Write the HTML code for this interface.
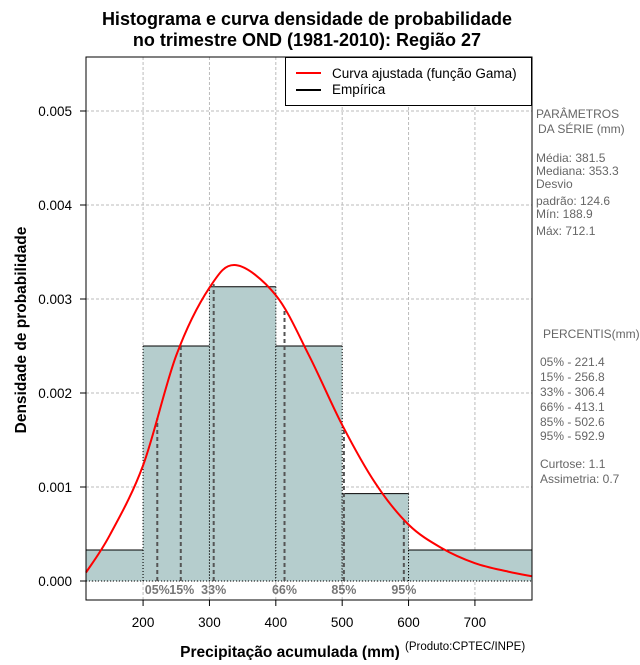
<!DOCTYPE html>
<html><head><meta charset="utf-8"><style>
body{margin:0;background:#fff;}
svg text{font-family:"Liberation Sans",sans-serif;}
</style></head><body>
<svg id="chart" width="640" height="660" viewBox="0 0 640 660" xmlns="http://www.w3.org/2000/svg">
<text x="307" y="25" text-anchor="middle" font-size="18" font-weight="bold">Histograma e curva densidade de probabilidade</text>
<text x="307" y="46" text-anchor="middle" font-size="18" font-weight="bold">no trimestre OND (1981-2010): Região 27</text>
<g id="grid"></g>
<g id="bars"></g>
<g id="pct"></g>
<g id="curve"></g>
<g id="axes"></g>
<rect x="86" y="57" width="446" height="543" fill="none" stroke="#000" stroke-width="1"/>
<g>
<rect x="285.5" y="57.5" width="246" height="48" fill="#fff" stroke="#000"/>
<line x1="296" y1="73" x2="321" y2="73" stroke="#f00" stroke-width="2"/>
<text x="332" y="78" font-size="13.5">Curva ajustada (função Gama)</text>
<line x1="296" y1="90" x2="321" y2="90" stroke="#000" stroke-width="2"/>
<text x="332" y="94" font-size="13.5">Empírica</text>
</g>
<g font-size="12" fill="#666">
<text x="536" y="118" fill="#666">PARÂMETROS</text>
<text x="538" y="133" fill="#666">DA SÉRIE (mm)</text>
<text x="536" y="162" fill="#666">Média:  381.5</text>
<text x="536" y="175" fill="#666">Mediana:  353.3</text>
<text x="536" y="188" fill="#666">Desvio</text>
<text x="536" y="205" fill="#666">padrão:  124.6</text>
<text x="536" y="218" fill="#666">Mín:  188.9</text>
<text x="536" y="235" fill="#666">Máx:  712.1</text>
<text x="543" y="338" fill="#666">PERCENTIS(mm)</text>
<text x="540" y="366" fill="#666">05% -  221.4</text>
<text x="540" y="381" fill="#666">15% -  256.8</text>
<text x="540" y="396" fill="#666">33% -  306.4</text>
<text x="540" y="411" fill="#666">66% -  413.1</text>
<text x="540" y="426" fill="#666">85% -  502.6</text>
<text x="540" y="440" fill="#666">95% -  592.9</text>
<text x="540" y="468" fill="#666">Curtose:  1.1</text>
<text x="540" y="483" fill="#666">Assimetria:  0.7</text>
</g>
<text x="290" y="657" text-anchor="middle" font-size="15.5" font-weight="bold">Precipitação acumulada (mm)</text>
<text x="405" y="650" font-size="11.5">(Produto:CPTEC/INPE)</text>
<text transform="translate(26,330) rotate(-90)" text-anchor="middle" font-size="15.5" font-weight="bold">Densidade de probabilidade</text>
</svg>
<script>
const binEdges=[0,200,300,400,500,600,800];
const binDensity=[0.00033,0.0025,0.00313,0.0025,0.00093,0.00033];
const curveX=[114,150,200,250,300,340,400,450,500,550,600,650,700,750,786];
const curveY=[0.00009,0.00049,0.00123,0.0024,0.00312,0.00336,0.00304,0.0024,0.00166,0.00104,0.0006,0.00035,0.00019,0.0001,0.00005];
const pctVals=[221.4,256.8,306.4,413.1,502.6,592.9];
const pctLabels=["05%","15%","33%","66%","85%","95%"];
const xTicks=[200,300,400,500,600,700];
const yTicks=[0,0.001,0.002,0.003,0.004,0.005];
const yTickLabels=["0.000","0.001","0.002","0.003","0.004","0.005"];

const X0=86,X1=532,Y0=57,Y1=600;
const xMin=114,xMax=786;
function sx(v){return X0+(v-xMin)/(xMax-xMin)*(X1-X0);}
function sy(v){return 581-v*94000;}
const NS="http://www.w3.org/2000/svg";
function mk(tag,attrs,parent){const e=document.createElementNS(NS,tag);for(const k in attrs)e.setAttribute(k,attrs[k]);parent.appendChild(e);return e;}
function clampX(v){return Math.max(X0,Math.min(X1,v));}
const grid=document.getElementById('grid'),bars=document.getElementById('bars'),pct=document.getElementById('pct'),curve=document.getElementById('curve'),axes=document.getElementById('axes');
xTicks.forEach(t=>{const l=mk('line',{x1:sx(t),x2:sx(t),y1:Y0,y2:Y1,stroke:'#bbb','stroke-dasharray':'3,2'},grid);

});
yTicks.forEach(t=>{const l=mk('line',{x1:X0,x2:X1,y1:sy(t),y2:sy(t),stroke:'#bbb','stroke-dasharray':'3,2'},grid);

});
binDensity.forEach((d,i)=>{const a=clampX(sx(binEdges[i])),b=clampX(sx(binEdges[i+1]));
const r=mk('rect',{x:a,y:sy(d),width:b-a,height:sy(0)-sy(d),fill:'#b5cdcd'},bars);


mk('line',{x1:a,x2:b,y1:sy(d),y2:sy(d),stroke:'#000'},bars);
[a,b].forEach(x=>{if(x>X0&&x<X1)mk('line',{x1:x,x2:x,y1:sy(d),y2:sy(0),stroke:'#000','stroke-dasharray':'1,2'},bars);});
});
mk('line',{x1:X0,x2:X1,y1:sy(0),y2:sy(0),stroke:'#000','stroke-dasharray':'1,2'},bars);
function interp(v){for(let i=0;i<curveX.length-1;i++){if(v>=curveX[i]&&v<=curveX[i+1]){const t=(v-curveX[i])/(curveX[i+1]-curveX[i]);return curveY[i]+t*(curveY[i+1]-curveY[i]);}}return 0;}
pctVals.forEach((v,i)=>{const l=mk('line',{x1:sx(v),x2:sx(v),y1:sy(0),y2:sy(interp(v)),stroke:'#555','stroke-width':2,'stroke-dasharray':'4,3'},pct);


const t=mk('text',{x:sx(v)+(i==1?1:0),y:594,'text-anchor':'middle','font-size':12.5,'font-weight':'bold',fill:'#777','font-family':'Liberation Serif, serif'},pct);
t.textContent=pctLabels[i];

});
const P=curveX.map((x,i)=>[sx(x),sy(curveY[i])]);
let d='M'+P[0][0]+','+P[0][1];
for(let i=0;i<P.length-1;i++){const p0=P[i-1]||P[i],p1=P[i],p2=P[i+1],p3=P[i+2]||P[i+1];
d+=' C'+(p1[0]+(p2[0]-p0[0])/6)+','+(p1[1]+(p2[1]-p0[1])/6)+' '+(p2[0]-(p3[0]-p1[0])/6)+','+(p2[1]-(p3[1]-p1[1])/6)+' '+p2[0]+','+p2[1];}
const cp=mk('path',{d:d,fill:'none',stroke:'#f00','stroke-width':2},curve);


xTicks.forEach(t=>{mk('line',{x1:sx(t),x2:sx(t),y1:Y1,y2:Y1+6,stroke:'#000'},axes);
const tx=mk('text',{x:sx(t),y:627,'text-anchor':'middle','font-size':13.5},axes);tx.textContent=t;

});
yTicks.forEach((t,i)=>{mk('line',{x1:X0-6,x2:X0,y1:sy(t),y2:sy(t),stroke:'#000'},axes);
const tx=mk('text',{x:X0-14,y:sy(t)+5,'text-anchor':'end','font-size':13.5},axes);tx.textContent=yTickLabels[i];

});
</script>
</body></html>
